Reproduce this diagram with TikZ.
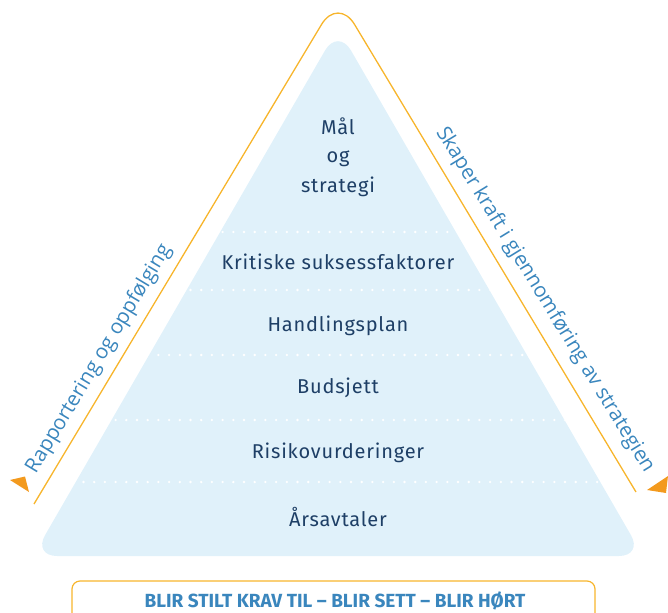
\documentclass[tikz,border=0pt]{standalone}
\usepackage{fontspec}
\setmainfont{Fira Sans}[LetterSpace=4]
\newfontfamily\sidefont{Open Sans}
\newfontfamily\botfont{Fira Sans}
\definecolor{pyrfill}{HTML}{E0F1FA}
\definecolor{orline}{HTML}{F7B52C}
\definecolor{orarrow}{HTML}{F39A1E}
\definecolor{navy}{HTML}{1E3F66}
\definecolor{sideblue}{HTML}{3A86BD}
\tikzset{
  level/.style={anchor=base, text=navy, font=\fontsize{20}{22}\selectfont, inner sep=0pt},
  sidetext/.style={text=sideblue, font=\sidefont\fontsize{20.5}{22}\selectfont, inner sep=0pt},
  sep/.style={white, line width=2.6pt, line cap=round, dash pattern=on 0pt off 10.7pt},
  frame/.style={orline, line width=1.3pt},
  marker/.style={fill=orarrow, draw=none}
}
\begin{document}
\begin{tikzpicture}[x=1pt,y=1pt]
\useasboundingbox (0,0) rectangle (668,-612);
\clip (0,0) rectangle (668,-612);
% pyramid
\path[fill=pyrfill] (338,-556) [rounded corners=24pt] -- (643,-556) [rounded corners=26pt] -- (338,-28) [rounded corners=24pt] -- (33,-556) -- cycle;
% separators
\begin{scope}
\clip (338,-28) -- (643,-556) -- (33,-556) -- cycle;
\foreach \yy in {232,290,355,420,482}{
  \draw[sep] (30,-\yy) -- (650,-\yy);
}
\end{scope}
% orange frame
\coordinate (fl) at (34,-504);
\coordinate (ft) at (338,3);
\coordinate (fr) at (636,-492);
\draw[frame, rounded corners=32pt] (fl) -- (ft) -- (fr);
% markers
\fill[marker] (10,-480) -- (25,-476.5) -- (29,-492) -- cycle;
\fill[marker] (647,-490) -- (668,-476) -- (666,-493) -- cycle;
% level texts
\node[level] (mal) at (338,-135) {Mål};
\node[level] (og) at (338,-163) {og};
\node[level] (strat) at (338,-193) {strategi};
\node[level] (ksf) at (338,-269) {Kritiske suksessfaktorer};
\node[level] (hp) at (338,-331) {Handlingsplan};
\node[level] (bud) at (338,-393) {Budsjett};
\node[level] (risk) at (338,-458) {Risikovurderinger};
\node[level] (ars) at (338,-526) {Årsavtaler};
% side texts
\node[sidetext, rotate=59] (lt) at (99,-359) {Rapportering og oppfølging};
\node[sidetext, rotate=-58.5] (rt) at (545,-300) {Skaper kraft i gjennomføring av strategien};
% bottom box
\draw[frame, line width=1.2pt, rounded corners=8pt] (72,-640) -- (72,-581) -- (595,-581) -- (595,-640);
\node[anchor=base, text=sideblue, font=\botfont\bfseries\fontsize{19}{21}\selectfont, inner sep=0pt] (bot) at (335,-607) {BLIR STILT KRAV TIL – BLIR SETT – BLIR HØRT};
\end{tikzpicture}
\end{document}
